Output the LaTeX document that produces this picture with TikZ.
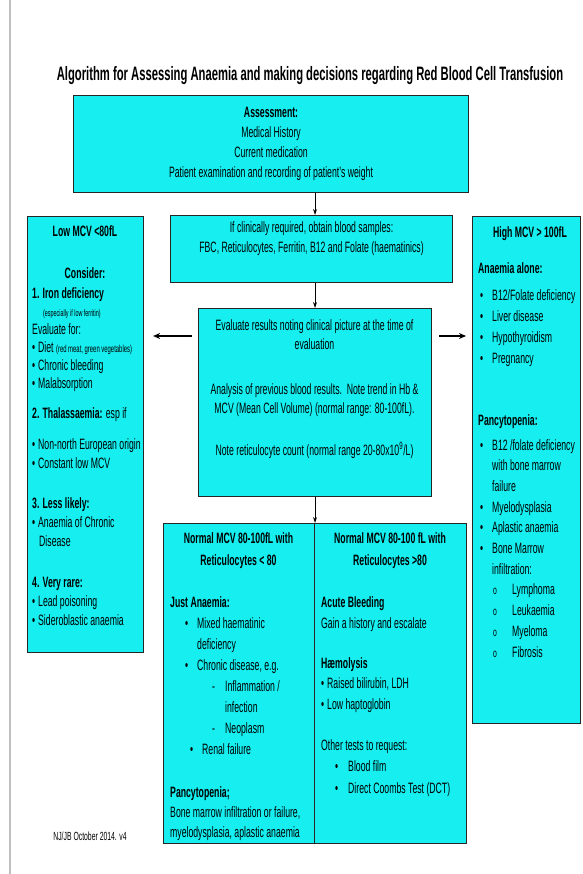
\documentclass[tikz,border=0pt]{standalone}
\usepackage{fontspec}
\setmainfont{Liberation Sans}[FakeStretch=0.58]
\usetikzlibrary{arrows.meta}

\definecolor{boxcyan}{RGB}{22,238,240}
\newcommand{\bul}[1]{\makebox[#1][l]{\textbullet}}
\newcommand{\circbul}{\makebox[19pt][l]{\fontsize{11.8}{12}\selectfont o}}

% multi-line text nodes are placed at the baseline of their last line
\tikzset{
  box/.style={draw=black!85, line width=1.1pt, fill=boxcyan, anchor=north west, inner sep=0pt},
  txt/.style={font=\fontsize{15}{19}\selectfont, inner sep=0pt, align=left, anchor=base west},
  hd/.style={font=\bfseries\fontsize{15}{22}\selectfont, inner sep=0pt, align=center, anchor=base},
  down/.style={-{Stealth[length=6pt,width=4pt]}, line width=0.8pt},
  side/.style={-{Stealth[length=7pt,width=6pt]}, line width=2pt}
}

\begin{document}
\begin{tikzpicture}[x=1pt,y=-1pt]
\useasboundingbox (0,0) rectangle (582,874);
\draw[black!25, line width=2pt] (10,0) -- (10,874);

\node[font=\bfseries\fontsize{19.4}{20}\selectfont, anchor=base, inner sep=0pt] (title) at (310,81)
  {Algorithm for Assessing Anaemia and making decisions regarding Red Blood Cell Transfusion};

% boxes
\draw (73,95) node[box, minimum width=395pt, minimum height=97pt, align=center,
  font=\fontsize{15}{20}\selectfont] (assess)
  {\textbf{Assessment:}\\Medical History\\Current medication\\Patient examination and recording of patient's weight};
\draw (170,215) node[box, minimum width=282pt, minimum height=67pt, align=center,
  font=\fontsize{15}{20}\selectfont] (fbc)
  {If clinically required, obtain blood samples:\\FBC, Reticulocytes, Ferritin, B12 and Folate (haematinics)\\[3pt]};
\draw (198,308) node[box, minimum width=233pt, minimum height=188pt] (eval) {};
\draw (27,216) node[box, minimum width=116pt, minimum height=436pt] (low) {};
\draw (472,216) node[box, minimum width=108pt, minimum height=507pt] (high) {};
\draw (163,523) node[box, minimum width=151pt, minimum height=320pt] (nl) {};
\draw (314,523) node[box, minimum width=152pt, minimum height=320pt] (nr) {};

% evaluate
\node[txt, anchor=base, align=center] (evaltxt) at (314.5,455)
  {Evaluate results noting clinical picture at the time of\\
   evaluation\\[26pt]
   Analysis of previous blood results.\ \ Note trend in Hb \&\\
   MCV (Mean Cell Volume) (normal range: 80-100fL).\\[23pt]
   Note reticulocyte count (normal range 20-80x10\textsuperscript{9}/L)};

% low MCV
\node[hd] (lowhd) at (85,237) {Low MCV <80fL};
\node[hd] (lowcons) at (85,278) {Consider:};
\node[txt, font=\fontsize{15}{18}\selectfont] (lowa) at (32,388)
  {\textbf{1. Iron deficiency}\\
   \hspace*{11pt}{\fontsize{9.3}{10}\selectfont(especially if low ferritin)}\\
   Evaluate for:\\
   \bul{6pt}Diet {\fontsize{10.2}{11}\selectfont(red meat, green vegetables)}\\
   \bul{6pt}Chronic bleeding\\
   \bul{6pt}Malabsorption};
\node[txt] (lowb) at (32,468)
  {\textbf{2. Thalassaemia:} esp if\\[12pt]
   \bul{6pt}Non-north European origin\\
   \bul{6pt}Constant low MCV};
\node[txt] (lowc) at (32,546)
  {\textbf{3. Less likely:}\\
   \bul{6pt}Anaemia of Chronic\\
   \hspace*{7pt}Disease};
\node[txt] (lowd) at (32,625)
  {\textbf{4. Very rare:}\\
   \bul{6pt}Lead poisoning\\
   \bul{6pt}Sideroblastic anaemia};

% high MCV
\node[hd] (highhd) at (530,238) {High MCV > 100fL};
\node[txt, font=\fontsize{15}{21}\selectfont] (higha) at (478,363)
  {\textbf{Anaemia alone:}\\[6pt]
   \hspace*{2pt}\bul{12pt}B12/Folate deficiency\\
   \hspace*{2pt}\bul{12pt}Liver disease\\
   \hspace*{2pt}\bul{12pt}Hypothyroidism\\
   \hspace*{2pt}\bul{12pt}Pregnancy};
\node[txt, font=\fontsize{15}{20.7}\selectfont] (highb) at (478,657)
  {\textbf{Pancytopenia:}\\[4pt]
   \hspace*{2pt}\bul{12pt}B12 /folate deficiency\\
   \hspace*{14pt}with bone marrow\\
   \hspace*{14pt}failure\\
   \hspace*{2pt}\bul{12pt}Myelodysplasia\\
   \hspace*{2pt}\bul{12pt}Aplastic anaemia\\
   \hspace*{2pt}\bul{12pt}Bone Marrow\\
   \hspace*{14pt}infiltration:\\
   \hspace*{15pt}\circbul Lymphoma\\
   \hspace*{15pt}\circbul Leukaemia\\
   \hspace*{15pt}\circbul Myeloma\\
   \hspace*{15pt}\circbul Fibrosis};

% normal MCV, low reticulocytes
\node[hd] (nlhd) at (238.5,565) {Normal MCV 80-100fL with\\Reticulocytes < 80};
\node[txt, font=\fontsize{15}{21}\selectfont] (nla) at (170,754)
  {\textbf{Just Anaemia:}\\
   \hspace*{15pt}\bul{12pt}Mixed haematinic\\
   \hspace*{27pt}deficiency\\
   \hspace*{15pt}\bul{12pt}Chronic disease, e.g.\\
   \hspace*{42pt}\makebox[13pt][l]{-}Inflammation /\\
   \hspace*{55pt}infection\\
   \hspace*{42pt}\makebox[13pt][l]{-}Neoplasm\\
   \hspace*{20pt}\bul{12pt}Renal failure};
\node[txt, font=\fontsize{15}{20}\selectfont] (nlb) at (170,837)
  {\textbf{Pancytopenia;}\\
   Bone marrow infiltration or failure,\\
   myelodysplasia, aplastic anaemia};

% normal MCV, high reticulocytes
\node[hd] (nrhd) at (390,565) {Normal MCV 80-100 fL with\\Reticulocytes >80};
\node[txt, font=\fontsize{15}{21}\selectfont] (nra) at (321,628)
  {\textbf{Acute Bleeding}\\Gain a history and escalate};
\node[txt, font=\fontsize{15}{20.5}\selectfont] (nrb) at (321,709)
  {\textbf{Hæmolysis}\\
   \bul{6pt}Raised bilirubin, LDH\\
   \bul{6pt}Low haptoglobin};
\node[txt, font=\fontsize{15}{21.5}\selectfont] (nrc) at (321,793)
  {Other tests to request:\\
   \hspace*{14pt}\bul{13pt}Blood film\\
   \hspace*{14pt}\bul{13pt}Direct Coombs Test (DCT)};

\node[font=\fontsize{11.8}{12}\selectfont, anchor=base, inner sep=0pt] (foot) at (90,840) {NJ/JB October 2014. v4};

% arrows
\draw[down] (assess.south -| eval.north) -- (fbc.north -| eval.north);
\draw[down] (fbc.south -| eval.north) -- (eval.north);
\draw[down] (eval.south) -- (eval.south |- nl.north);
\coordinate (evl) at ([yshift=-28pt]eval.north west);
\coordinate (evr) at ([yshift=-28pt]eval.north east);
\draw[side, shorten <=6pt, shorten >=9pt] (evl) -- (evl -| low.east);
\draw[side, shorten <=7pt, shorten >=6pt] (evr) -- (evr -| high.west);

\end{tikzpicture}
\end{document}
